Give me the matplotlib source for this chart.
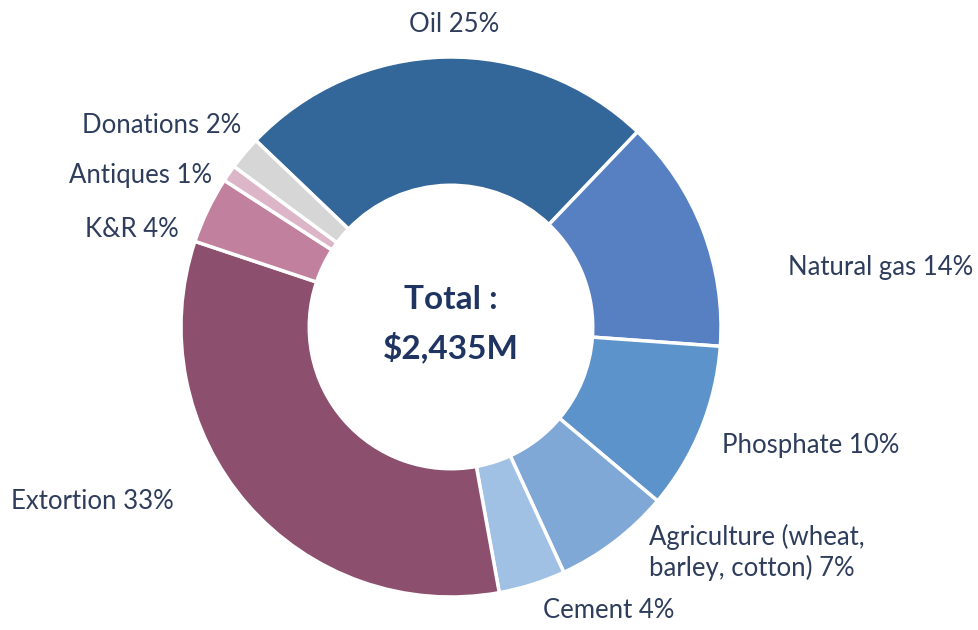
import matplotlib.pyplot as plt

plt.rcParams['font.family'] = ['Lato', 'DejaVu Sans']

# data, clockwise from Oil
labels = ["Oil", "Natural gas", "Phosphate", "Agriculture (wheat,\nbarley, cotton)",
          "Cement", "Extortion", "K&R", "Antiques", "Donations"]
shares = [25, 14, 10, 7, 4, 33, 4, 1, 2]
colors = ["#336699", "#5680C2", "#5C93CB", "#80A8D7", "#A0C0E4",
          "#8C4F6E", "#C0809E", "#DDB5C8", "#D6D6D6"]
total_label = "Total :\n$2,435M"

# label layout (data coords, pie radius = 1): x, y, ha
label_pos = [(0.01, 1.12, "center"), (1.25, 0.22, "left"), (1.005, -0.44, "left"),
             (0.735, -0.835, "left"), (0.34, -1.05, "left"), (-1.63, -0.645, "left"),
             (-1.01, 0.36, "right"), (-0.885, 0.56, "right"), (-0.775, 0.745, "right")]

txt_col = "#2E3D5C"

fig = plt.figure(figsize=(9.79, 6.30), dpi=100)
ax = fig.add_axes([0, 0, 1, 1])

ax.pie(shares, colors=colors, startangle=136.3, counterclock=False,
       wedgeprops=dict(width=0.475, edgecolor="white", linewidth=2.5))

for lab, val, (x, y, ha) in zip(labels, shares, label_pos):
    ax.text(x, y, f"{lab} {val}%", ha=ha, va="center", fontsize=18.5,
            color=txt_col, linespacing=1.25)

ax.text(0, 0.01, total_label, ha="center", va="center", fontsize=24,
        fontweight="bold", color="#1F3461", linespacing=1.65)

r = 270.0
ax.set_xlim(-451 / r, (979 - 451) / r)
ax.set_ylim(-(630 - 327) / r, 327 / r)
ax.set_aspect("equal")
ax.axis("off")

fig.savefig("out.png", dpi=100)
